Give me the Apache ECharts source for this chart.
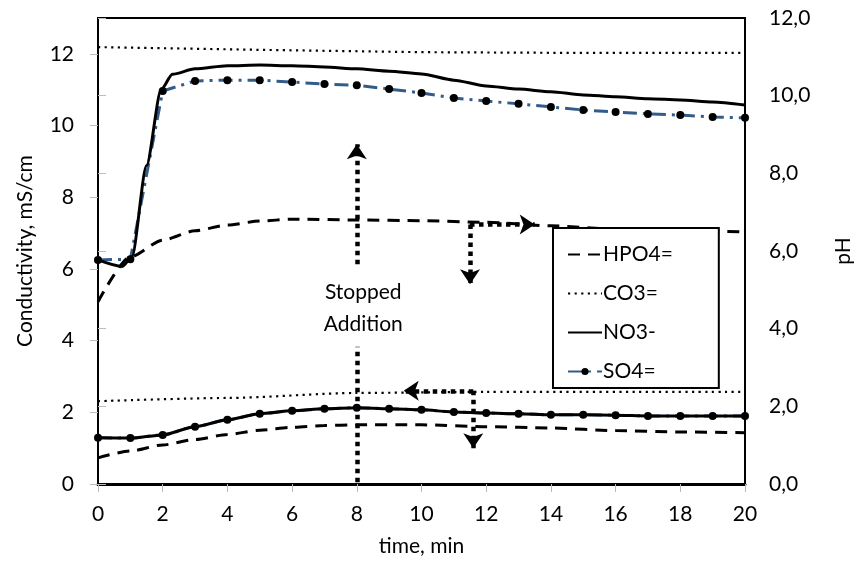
<!DOCTYPE html>
<html>
<head>
<meta charset="utf-8">
<script src="https://cdn.jsdelivr.net/npm/echarts@6/dist/echarts.min.js"></script>
<style>
    html, body {margin: 0; padding: 0; background: #fff;}
    #chart {width: 862px; height: 568px;}
</style>
</head>
<body>
<div id="chart"></div>
<script>
// time points, min
let xTicks = [0, 2, 4, 6, 8, 10, 12, 14, 16, 18, 20];
let minutes = [0, 1, 2, 3, 4, 5, 6, 7, 8, 9, 10, 11, 12, 13, 14, 15, 16, 17, 18, 19, 20];

// pH curves (right axis)
let phSO4 = [5.77, 5.79, 10.12, 10.38, 10.40, 10.40, 10.35, 10.30, 10.27, 10.17, 10.07, 9.94, 9.86, 9.79, 9.71, 9.63, 9.58, 9.53, 9.50, 9.45, 9.43];
let phNO3 = [[0, 5.77], [0.75, 5.6], [1.05, 5.85], [1.5, 8.2], [1.95, 10.15], [2.3, 10.55], [3, 10.69], [4, 10.77], [5, 10.79], [6, 10.77], [7, 10.74], [8, 10.69], [9, 10.63], [10, 10.56], [11, 10.40], [12, 10.25], [13, 10.17], [14, 10.10], [15, 10.02], [16, 9.97], [17, 9.92], [18, 9.89], [19, 9.84], [20, 9.76]];
let phHPO4 = [[0, 4.69], [1, 5.85], [2, 6.28], [3, 6.52], [4, 6.67], [5, 6.77], [6, 6.82], [8, 6.80], [10, 6.78], [12, 6.74], [14, 6.65], [16, 6.56], [18, 6.52], [20, 6.49]];
let phCO3 = [[0, 11.25], [5, 11.18], [10, 11.12], [15, 11.1], [20, 11.1]];

// conductivity curves, mS/cm (left axis)
let condSO4 = [1.29, 1.28, 1.37, 1.6, 1.79, 1.96, 2.04, 2.1, 2.13, 2.1, 2.07, 2.01, 1.98, 1.96, 1.93, 1.93, 1.92, 1.9, 1.9, 1.9, 1.9];
let condNO3 = condSO4.slice();
let condHPO4 = [[0, 0.73], [1, 0.92], [2, 1.09], [3, 1.24], [4, 1.38], [5, 1.5], [6, 1.58], [7, 1.63], [8, 1.65], [10, 1.65], [12, 1.6], [14, 1.56], [16, 1.49], [18, 1.45], [20, 1.43]];
let condCO3 = [[0, 2.31], [4, 2.4], [8, 2.54], [12, 2.57], [20, 2.57]];

// annotation arrows, [from, to] in (min, mS/cm)
let arrowLines = [
    [[8, 6.13], [8, 9.48]],
    [[11.5, 7.24], [13.5, 7.24]],
    [[11.5, 7.24], [11.5, 5.57]],
    [[11.6, 2.6], [9.45, 2.6]],
    [[11.6, 2.6], [11.6, 1.0]]
];
let plainLines = [
    [[8, 0.05], [8, 3.83]]
];
let noteText = 'Stopped\nAddition';
let notePos = [8.2, 4.9];

let FONT = 'Lato';
let soColor = '#335c8a';

function pairs(xs, ys) {
    return ys.map((v, i) => [xs[i], v]);
}

let chart = echarts.init(document.getElementById('chart'));

let lineCommon = {
    type: 'line',
    smooth: 0.25,
    smoothMonotone: 'x',
    showSymbol: false,
    symbol: 'none',
    animation: false,
    z: 3
};

let hideDot = {opacity: 0};

let option = {
    backgroundColor: '#fff',
    textStyle: {fontFamily: FONT},
    grid: {
        left: 98, right: 114, top: 18, bottom: 84,
        show: true, borderColor: '#000', borderWidth: 2
    },
    legend: {
        orient: 'vertical',
        left: 553, top: 228,
        padding: [16, 46, 6, 14],
        itemGap: 18,
        itemWidth: 34,
        itemHeight: 9,
        borderColor: '#000',
        borderWidth: 2,
        backgroundColor: '#fff',
        textStyle: {fontFamily: FONT, fontSize: 21, color: '#000', padding: [0, 0, 0, -4]},
        data: [
            {name: 'HPO4=', itemStyle: hideDot},
            {name: 'CO3=', itemStyle: hideDot},
            {name: 'NO3-', itemStyle: hideDot},
            {name: 'SO4='}
        ]
    },
    xAxis: [
        {
            type: 'value',
            min: 0, max: 20, interval: 2,
            name: 'time, min',
            nameLocation: 'middle',
            nameGap: 52,
            nameTextStyle: {fontFamily: FONT, fontSize: 21, color: '#000'},
            axisLine: {show: false},
            axisTick: {show: true, length: 8, lineStyle: {color: '#bbb'}},
            axisLabel: {fontFamily: FONT, fontSize: 21, color: '#000', margin: 20,
                formatter: v => xTicks.indexOf(v) >= 0 ? String(v) : ''},
            splitLine: {show: false}
        },
        {
            // heavier top frame line
            type: 'value',
            position: 'top',
            min: 0, max: 20,
            axisLine: {show: true, lineStyle: {color: '#000', width: 3}},
            axisTick: {show: false},
            axisLabel: {show: false},
            splitLine: {show: false}
        }
    ],
    yAxis: [
        {
            type: 'value',
            min: 0, max: 13, interval: 2,
            name: 'Conductivity, mS/cm',
            nameLocation: 'middle',
            nameRotate: 90,
            nameGap: 62,
            nameTextStyle: {fontFamily: FONT, fontSize: 21, color: '#000'},
            axisLine: {show: false},
            axisTick: {show: true, length: 8, lineStyle: {color: '#bbb'}},
            axisLabel: {fontFamily: FONT, fontSize: 21, color: '#000', margin: 24, showMaxLabel: false},
            splitLine: {show: false}
        },
        {
            type: 'value',
            position: 'right',
            min: 0, max: 12, interval: 2,
            name: 'pH',
            nameLocation: 'middle',
            nameRotate: 90,
            nameGap: 88,
            nameTextStyle: {fontFamily: FONT, fontSize: 21, color: '#000'},
            axisLine: {show: false},
            axisTick: {show: true, length: 8, lineStyle: {color: '#bbb'}},
            axisLabel: {fontFamily: FONT, fontSize: 21, color: '#000', margin: 24,
                formatter: v => v.toFixed(1).replace('.', ',')},
            splitLine: {show: false}
        }
    ],
    series: [
        // pH group
        Object.assign({}, lineCommon, {
            name: 'HPO4=', yAxisIndex: 1, data: phHPO4,
            lineStyle: {color: '#000', width: 3, type: [12, 8]},
            itemStyle: {color: '#000'}
        }),
        Object.assign({}, lineCommon, {
            name: 'CO3=', yAxisIndex: 1, data: phCO3, smooth: false,
            lineStyle: {color: '#000', width: 2.2, type: [2.2, 4.4]},
            itemStyle: {color: '#000'}
        }),
        Object.assign({}, lineCommon, {
            name: 'SO4=', yAxisIndex: 1, data: pairs(minutes, phSO4), smooth: false,
            showSymbol: true, symbol: 'circle', symbolSize: 8,
            lineStyle: {color: soColor, width: 3, type: [14, 6, 3, 6]},
            itemStyle: {color: '#000'}
        }),
        Object.assign({}, lineCommon, {
            name: 'NO3-', yAxisIndex: 1, data: phNO3,
            lineStyle: {color: '#000', width: 3},
            itemStyle: {color: '#000'}
        }),
        // conductivity group
        Object.assign({}, lineCommon, {
            name: 'HPO4=', yAxisIndex: 0, data: condHPO4,
            lineStyle: {color: '#000', width: 3, type: [12, 8]},
            itemStyle: {color: '#000'}
        }),
        Object.assign({}, lineCommon, {
            name: 'CO3=', yAxisIndex: 0, data: condCO3,
            lineStyle: {color: '#000', width: 2.2, type: [2.2, 4.4]},
            itemStyle: {color: '#000'}
        }),
        Object.assign({}, lineCommon, {
            name: 'SO4=', yAxisIndex: 0, data: pairs(minutes, condSO4),
            showSymbol: true, symbol: 'circle', symbolSize: 8,
            lineStyle: {color: soColor, width: 3, type: [14, 6, 3, 6]},
            itemStyle: {color: '#000'}
        }),
        Object.assign({}, lineCommon, {
            name: 'NO3-', yAxisIndex: 0, data: pairs(minutes, condNO3),
            lineStyle: {color: '#000', width: 3},
            itemStyle: {color: '#000'}
        }),
        // arrows + note
        {
            type: 'line',
            name: 'notes',
            yAxisIndex: 0,
            data: [],
            animation: false,
            silent: true,
            z: 4,
            markLine: {
                silent: true,
                animation: false,
                symbol: ['none', 'arrow'],
                symbolSize: [15, 15],
                label: {show: false},
                lineStyle: {color: '#000', width: 4.5, type: [4.5, 4.5]},
                emphasis: {disabled: true},
                data: arrowLines.map(a => [{coord: a[0]}, {coord: a[1]}])
                    .concat(plainLines.map(a => [{coord: a[0], symbol: 'none'}, {coord: a[1], symbol: 'none'}]))
            },
            markPoint: {
                silent: true,
                animation: false,
                symbol: 'circle',
                symbolSize: 0,
                label: {
                    show: true, position: 'inside',
                    formatter: noteText,
                    fontFamily: FONT, fontSize: 21, lineHeight: 32, color: '#000'
                },
                data: [{coord: notePos}]
            }
        }
    ]
};

chart.setOption(option);
</script>
</body>
</html>
